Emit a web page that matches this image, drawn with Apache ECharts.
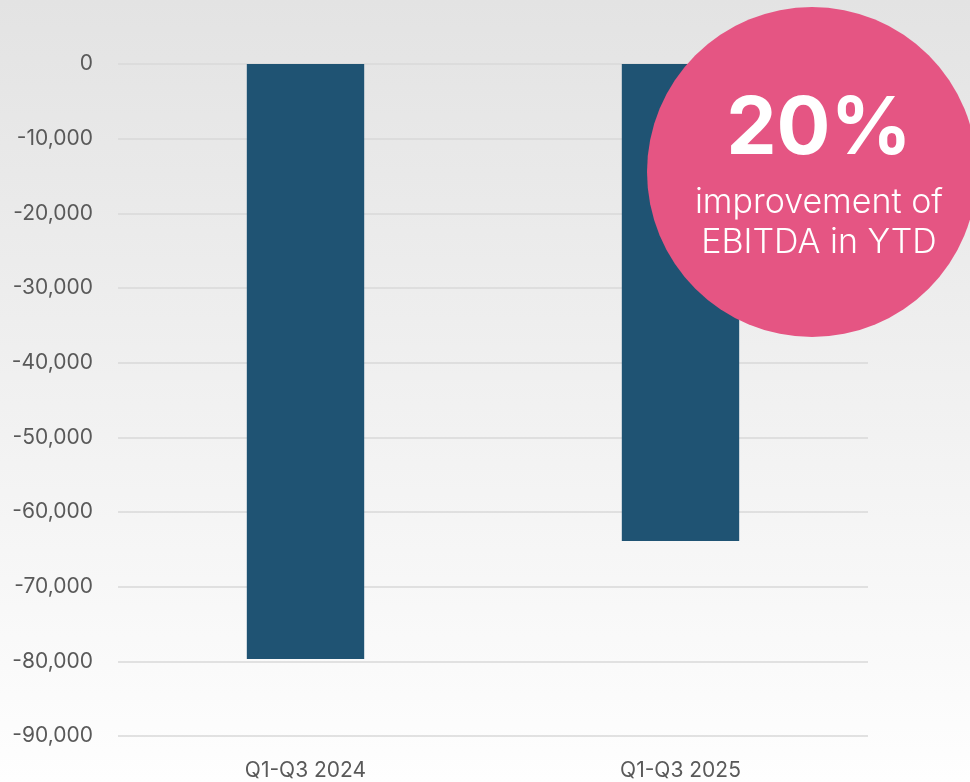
<!DOCTYPE html>
<html>
<head>
<meta charset="utf-8">
<script src="https://cdn.jsdelivr.net/npm/echarts@6/dist/echarts.min.js"></script>
<style>
  html, body { margin: 0; padding: 0; }
  #chart { width: 970px; height: 782px; }
</style>
</head>
<body>
<div id="chart"></div>
<script>
// data
const categories = ['Q1-Q3 2024', 'Q1-Q3 2025']
const ebitda = [-79700, -63900]
const badgeValue = '20%'
const badgeLines = ['improvement of', 'EBITDA in YTD']

const myChart = echarts.init(document.getElementById('chart'))
const font = 'Inter, "Open Sans", sans-serif'

myChart.setOption({
  backgroundColor: new echarts.graphic.LinearGradient(0, 0, 0, 1, [
    { offset: 0, color: '#e3e3e3' },
    { offset: 1, color: '#fefefe' }
  ]),
  animation: false,
  grid: { left: 118, right: 102, top: 64, bottom: 46 },
  xAxis: {
    type: 'category',
    data: categories,
    axisLine: { show: false },
    axisTick: { show: false },
    axisLabel: { color: '#595959', fontSize: 21, fontFamily: font, margin: 24 }
  },
  yAxis: {
    type: 'value',
    min: -90000,
    max: 0,
    interval: 10000,
    axisLabel: {
      color: '#595959',
      fontSize: 21,
      fontFamily: font,
      margin: 25,
      formatter: v => v.toLocaleString('en-US')
    },
    splitLine: { lineStyle: { color: '#d9d9d9', width: 1.5 } }
  },
  series: [
    {
      type: 'bar',
      data: ebitda,
      barWidth: '31.3%',
      itemStyle: { color: '#1f5373' },
      z: 2
    }
  ],
  graphic: [
    {
      type: 'circle',
      shape: { cx: 812, cy: 172, r: 165 },
      style: { fill: '#e55583' },
      z: 100
    },
    {
      type: 'text',
      x: 819, y: 130,
      style: {
        text: badgeValue,
        fill: '#fff',
        font: 'bold 80px ' + font,
        align: 'center',
        verticalAlign: 'middle'
      },
      z: 101
    },
    {
      type: 'text',
      x: 819, y: 223,
      style: {
        text: badgeLines.join('\n'),
        fill: '#fff',
        font: '300 34px ' + font,
        lineHeight: 40,
        align: 'center',
        verticalAlign: 'middle'
      },
      z: 101
    }
  ]
})
</script>
</body>
</html>
